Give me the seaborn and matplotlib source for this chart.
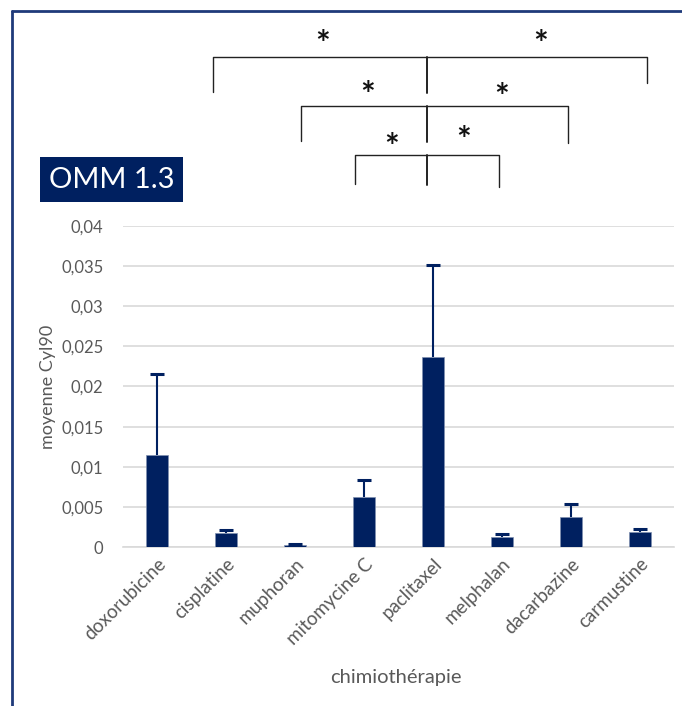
import numpy as np
import pandas as pd
import matplotlib.pyplot as plt
from matplotlib.lines import Line2D
from matplotlib.patches import Rectangle
from matplotlib.ticker import FuncFormatter
from matplotlib.transforms import blended_transform_factory
import seaborn as sns

# data
drugs = ['doxorubicine', 'cisplatine', 'muphoran', 'mitomycine C',
         'paclitaxel', 'melphalan', 'dacarbazine', 'carmustine']
means = [0.0115, 0.0017, 0.0003, 0.0062, 0.0237, 0.0013, 0.0037, 0.0019]
errs = [0.0101, 0.0004, 0.0001, 0.0021, 0.0114, 0.0003, 0.0016, 0.0004]

# significance brackets: (left drug, right drug, reference drug, level)
brackets = [('cisplatine', 'carmustine', 'paclitaxel', 0),
            ('muphoran', 'dacarbazine', 'paclitaxel', 1),
            ('mitomycine C', 'melphalan', 'paclitaxel', 2)]

navy = '#002060'
grey = '#595959'

df = pd.DataFrame({'drug': drugs, 'mean': means, 'err': errs})
df['top'] = df['mean'] + df['err']

sns.set_theme(style='white')
plt.rcParams['font.family'] = ['Lato', 'DejaVu Sans']

fig = plt.figure(figsize=(6.82, 7.06), dpi=100)
ax = fig.add_axes([0.1804, 0.2252, 0.808, 0.4547])

sns.barplot(data=df, x='drug', y='mean', color=navy, width=0.32,
            saturation=1, edgecolor='#8090b0', linewidth=0.5, ax=ax, zorder=3)
x = np.arange(len(drugs))
# upper-only error bars
ax.vlines(x, df['mean'], df['top'], color=navy, lw=1.5, zorder=4)
ax.plot(x, df['top'], ls='none', marker='_', markersize=10, mew=2.2, color=navy, zorder=4)

ax.set_ylim(0, 0.04)
ax.set_xlim(-0.5, len(drugs) - 0.5)
ax.set_yticks(np.arange(0, 0.0401, 0.005))
ax.yaxis.set_major_formatter(FuncFormatter(lambda v, p: ('%g' % round(v, 4)).replace('.', ',')))
ax.grid(axis='y', color='#d9d9d9', linewidth=1.2, zorder=0)
ax.set_axisbelow(True)
for s in ['top', 'right', 'left']:
    ax.spines[s].set_visible(False)
ax.spines['bottom'].set_color('#d9d9d9')
ax.spines['bottom'].set_linewidth(1.2)
ax.tick_params(axis='both', length=0, colors=grey, labelsize=12)
ax.tick_params(axis='y', pad=14)
ax.tick_params(axis='x', pad=6)
plt.setp(ax.get_xticklabels(), rotation=45, ha='right', rotation_mode='anchor', fontsize=13.5)
ax.set_ylabel('moyenne Cyl90', color=grey, fontsize=13, labelpad=4)
ax.set_xlabel('')
fig.text(0.58, 1 - 678 / 706, 'chimiothérapie', color=grey, fontsize=14.5, ha='center', va='center')

# brackets above the axes, x in data units, y in figure fraction
bt = blended_transform_factory(ax.transData, fig.transFigure)
pos = {d: i for i, d in enumerate(drugs)}
f = lambda py: 1 - py / 706
levels = [(57, 92, 83, 45), (106, 141, 143, 96), (155, 184, 187, 148)]
offs = [(-0.19, 0.11), (0.09, -0.04), (-0.13, -0.04)]
star_dx = [(0.03, 0.04), (0.05, 0.06), (0.0, 0.0)]
star_dy = [(0, 0), (0, 2), (0, -7)]
for (l, r, m, lev), (ol, orr) in zip(brackets, offs):
    ytop, yl, yr, ys = levels[lev]
    xl, xr, xm = pos[l] + ol, pos[r] + orr, pos[m] - 0.08
    ax.plot([xl, xl, xr, xr], [f(yl), f(ytop), f(ytop), f(yr)], color='#222222', lw=1,
            transform=bt, clip_on=False)
    ax.plot([xm, xm], [f(ytop), f(yl + 1)], color='#222222', lw=1.4, transform=bt, clip_on=False)
    ax.text((xl + xm) / 2 + star_dx[lev][0], f(ys + star_dy[lev][0]), '*', transform=bt,
            ha='center', va='center', fontsize=25, fontweight='bold', color='#111111')
    ax.text((xm + xr) / 2 + star_dx[lev][1], f(ys + star_dy[lev][1]), '*', transform=bt,
            ha='center', va='center', fontsize=25, fontweight='bold', color='#111111')

# title box
fig.add_artist(Rectangle((40 / 682, 1 - 202 / 706), 143 / 682, 45 / 706,
                         transform=fig.transFigure, facecolor=navy, edgecolor='none'))
fig.text(111.5 / 682, 1 - 180 / 706, 'OMM 1.3', color='white', fontsize=21,
         ha='center', va='center')

# frame lines
fig.add_artist(Line2D([12 / 682, 12 / 682], [0, 1 - 11 / 706], color='#1f3a7a', lw=2))
fig.add_artist(Line2D([12 / 682, 1], [1 - 11 / 706, 1 - 11 / 706], color='#1f3a7a', lw=2))

fig.savefig('out.png', dpi=100)
